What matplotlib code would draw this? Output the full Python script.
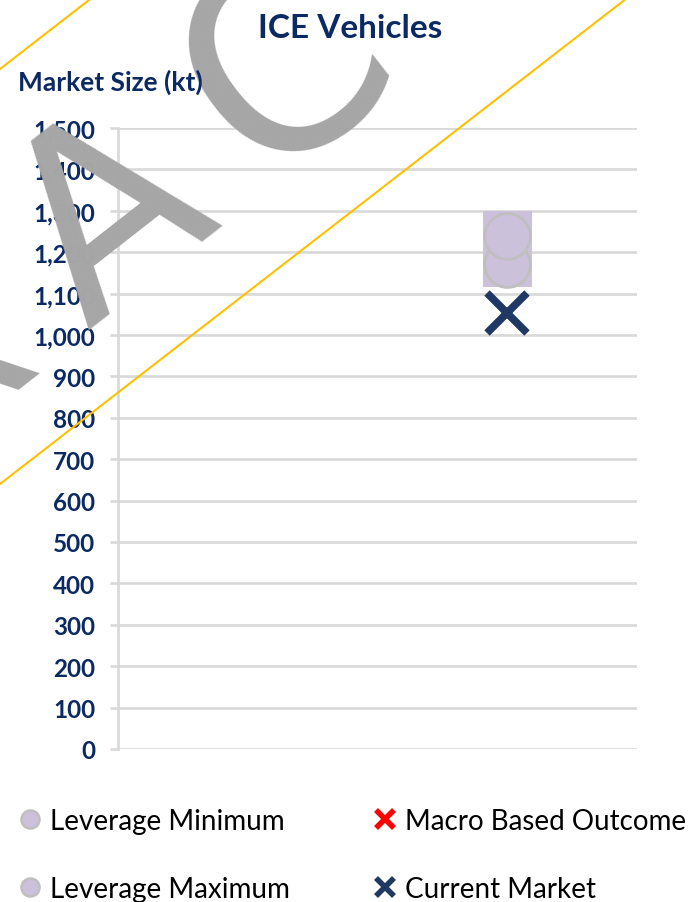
import matplotlib
matplotlib.use('Agg')
import matplotlib.pyplot as plt
from matplotlib.lines import Line2D
from matplotlib.ticker import FuncFormatter, FixedLocator
import numpy as np

W, H, DPI = 697, 903, 100

# ---------------- data ----------------
category_pos = [1]
range_low = [1115]
range_high = [1300]
leverage_min = [1171]
leverage_max = [1239]
macro_outcome = [np.nan]
current_market = [1053]
y_ticks = list(range(0, 1501, 100))

title = 'ICE Vehicles'
y_title = 'Market Size (kt)'
legend_labels = ['Leverage Minimum', 'Leverage Maximum', 'Macro Based Outcome', 'Current Market']

NAVY = '#0b2a63'
PURPLE = '#ccc1da'
GRID = '#d9d9d9'
FONT = 'Lato'

plt.rcParams['font.family'] = [FONT, 'DejaVu Sans']

fig = plt.figure(figsize=(W / DPI, H / DPI), dpi=DPI)

def fx(px):
    return px / W

def fy(py):
    return 1 - py / H

ax = fig.add_axes([fx(118), fy(750), fx(637) - fx(118), fy(129) - fy(750)])
ax.set_xlim(-0.5, 1.5)
ax.set_ylim(0, 1500)
ax.set_axisbelow(True)

ax.bar(category_pos, np.array(range_high) - np.array(range_low), bottom=range_low,
       width=0.19, color=PURPLE, zorder=2)
ax.plot(category_pos, leverage_min, 'o', ms=33, mfc=PURPLE, mec='#bfbfbf', mew=2, zorder=3)
ax.plot(category_pos, leverage_max, 'o', ms=33, mfc=PURPLE, mec='#bfbfbf', mew=2, zorder=4)
ax.plot(category_pos, macro_outcome, 'x', ms=28, mec='#ff0000', mew=5, zorder=5)
ax.plot(category_pos, current_market, 'x', ms=29, mec='#1f3864', mew=5.5, zorder=5)

for s in ['top', 'right', 'bottom']:
    ax.spines[s].set_visible(False)
ax.spines['left'].set_color(GRID)
ax.spines['left'].set_linewidth(1.9)
ax.yaxis.set_major_locator(FixedLocator(y_ticks))
ax.yaxis.set_major_formatter(FuncFormatter(lambda v, p: f'{v:,.0f}'))
ax.yaxis.grid(True, color=GRID, lw=1.9)
ax.tick_params(axis='y', length=6, width=1.9, color=GRID, pad=10.5,
               labelsize=17.5, labelcolor=NAVY)
for lab in ax.get_yticklabels():
    lab.set_fontweight('bold')
ax.set_xticks([])

fig.text(fx(350), fy(28), title, ha='center', va='center', fontsize=24,
         fontweight='bold', color=NAVY)
fig.text(fx(18), fy(82), y_title, ha='left', va='center', fontsize=19,
         fontweight='bold', color=NAVY, zorder=12)

# legend
handles = [
    Line2D([], [], ls='none', marker='o', ms=13, mfc=PURPLE, mec='#bfbfbf', mew=1.8),
    Line2D([], [], ls='none', marker='o', ms=13, mfc=PURPLE, mec='#bfbfbf', mew=1.8),
    Line2D([], [], ls='none', marker='x', ms=13, mec='#ff0000', mew=4),
    Line2D([], [], ls='none', marker='x', ms=13, mec='#1f3864', mew=4),
]
fig.legend(handles, legend_labels, ncol=2, loc='upper left',
           bbox_to_anchor=(fx(17), fy(809)), frameon=False, fontsize=20,
           handlelength=0.9, handletextpad=0.3, columnspacing=2.95,
           labelspacing=1.5, borderpad=0, borderaxespad=0)

# watermark
wm_color = '#a6a6a6'
for ch, (px, py), fs in zip(['X', 'A', 'C'], [(-24, 417), (155, 277), (334, 127)], [183, 183, 192]):
    fig.text(fx(px), fy(py), ch, ha='center', va='baseline', rotation=38,
             rotation_mode='anchor', fontsize=fs, color=wm_color,
             family='DejaVu Sans', zorder=10)

slope = -0.775
for b in [70, 485]:
    xs = np.array([-20, 720])
    ys = b + slope * xs
    fig.add_artist(Line2D(fx(xs), fy(ys), color='#ffc000', lw=1.5, zorder=11))

fig.savefig('out.png', dpi=DPI)
